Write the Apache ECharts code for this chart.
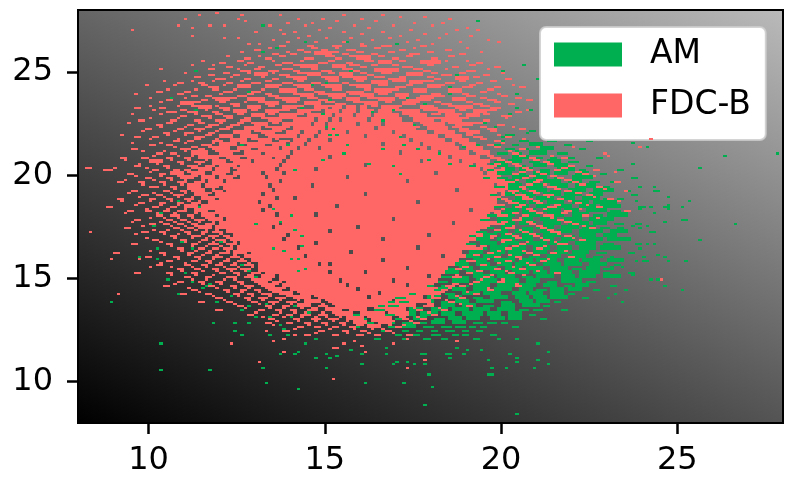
<!DOCTYPE html>
<html><head><meta charset="utf-8">
<style>html,body{margin:0;padding:0;background:#fff}#c{width:793px;height:490px}</style>
<script src="https://cdn.jsdelivr.net/npm/echarts@6/dist/echarts.min.js"></script>
</head><body><div id="c"></div>
<script>
const xTicks=[10,15,20,25];
const yTicks=[10,15,20,25];
// All values in tenths of an axis unit. Row = [y, from,to, from,to, ...]
const fdcbCore=[
[232,152,154,156,158,160,161],[230,150,153,155,158,160,163],[228,149,151,153,157,159,162,164,165],[226,148,150,152,153,155,161,163,166],[224,147,149,151,158,160,165,167,168],
[222,146,149,151,163,165,170],[220,144,147,149,155,157,168,170,172],[218,143,146,148,160,162,171,173,175],[216,141,144,146,150,152,173,175,178],[214,140,143,145,165,167,176,178,181],
[212,138,141,143,147,149,178,180,183],[210,137,139,141,170,172,181,183,186],[208,136,138,140,150,152,184,186,189],[206,135,137,139,176,178,187,189,192],[204,134,136,138,160,162,191,193,195],
[202,132,135,137,146,148,193,195,197],[200,133,137,139,180,182,194,196,198],[198,130,132,134,155,157,199],[196,131,136,138,172,174,200],[194,129,133,135,145,147,197,199,201],
[192,130,134,136,186,188,200],[190,128,131,133,160,162,198,200,201],[188,129,135,137,140,142,199],[186,127,130,132,175,177,198],[184,128,133,135,152,154,200],
[182,129,131,133,190,192,197],[180,130,135,137,146,148,196,198,199],[178,131,168,170,196],[176,132,136,138,185,187,198],[174,131,134,136,158,160,196],
[172,133,150,152,193],[170,132,138,140,178,180,195],[168,134,137,139,165,167,192],[166,135,146,148,190],[164,136,141,143,175,177,192],
[162,138,156,158,188],[160,137,143,145,182,184,190],[158,140,165,167,187],[156,141,147,149,150,152,186],[154,143,172,174,184],
[152,145,150,152,160,162,185],[150,146,178,180,182],[148,148,153,155,168,170,181],[146,150,155,157,172,174,180],[144,152,158,160,175],
[142,153,164,166,176],[140,156,161,163,172],[138,158,168,170,174],[136,161,170],[134,164,168],
[196,130,130],[194,128,128],[192,127,129],[190,126,127],[188,125,128],[186,124,126],[184,125,127],[182,126,128],[180,127,129],[178,127,130],[176,128,131],[174,129,130],[172,130,132],[170,130,131],[168,131,133],[166,132,134],[164,133,135],[162,134,137],[160,135,136],[158,136,139],[156,137,140],[154,139,142],[152,141,144],[150,143,145],[148,145,147],[146,147,149],[144,149,151],[142,151,152],[140,154,155],[138,157,157],[136,160,160]];
const amRows=[
[221,208,209,217,218],[219,201,203,212,213,220,221],[216,199,200,205,207,213,215,224,225],[214,198,199,203,204,208,211,218,219],[212,201,203,206,207,211,214,222,223],
[210,194,195,199,201,204,205,208,212,216,218],[208,197,199,203,207,210,211,214,215,219,220,227,228],[206,193,194,198,200,202,205,208,210,213,216,219,221],
[204,191,192,197,201,204,206,209,212,215,218,224,225],[202,196,198,200,203,205,208,211,213,216,220,222,223,233,234],[200,199,202,204,206,209,213,215,218,221,224,228,229],
[198,195,196,199,201,203,207,209,212,215,217,220,225,237,238],[196,201,204,207,210,212,216,219,222,225,227,231,232],[194,198,200,202,205,207,211,214,218,221,226,229,230],
[192,202,206,208,212,214,216,219,223,226,231,235,236,243,244],[190,197,198,201,204,206,209,212,216,218,222,225,228,237,238],[188,199,201,204,208,210,214,217,220,223,227,229,230,233,234],
[186,203,206,208,211,213,217,220,224,226,232],[184,198,200,203,207,210,213,215,219,222,226,228,233,239,240,246,247],[182,201,204,206,209,212,216,218,221,224,229,231,233],
[180,196,198,200,203,206,210,213,217,220,224,226,228,230,235],[178,194,196,199,202,205,208,211,215,218,222,225,231],[176,199,203,205,209,212,216,219,224,226,229,232,234,238,239],
[174,196,197,200,203,206,208,210,214,217,221,223,226,228,230,233,234],[172,193,195,198,201,204,208,211,214,216,219,222,228,231,235,242,243],
[170,191,192,195,198,200,203,206,210,212,216,218,220,222,226,229,232],[168,193,196,199,203,205,208,211,214,217,220,223,228,230,236],
[166,190,192,194,198,200,204,207,212,214,218,221,226,229,231,238,239],[164,194,195,197,201,203,206,209,213,216,219,222,226,228,233],
[162,191,194,197,200,202,206,209,212,215,218,220,224,227,229,236,237],[160,190,193,195,199,202,205,208,210,213,216,219,223,226,228,231,231],
[158,188,189,192,195,198,203,205,208,210,215,218,221,223,227,230,234,240,241],[156,187,190,193,196,199,202,204,209,212,216,218,222,225,229,232,233],
[154,185,186,188,191,194,198,201,205,207,211,214,218,220,222,224,227,229,231],[152,184,187,190,194,197,200,203,207,209,212,214,219,222,227,229,230,236,237],
[150,183,185,188,190,192,197,199,203,206,208,210,214,217,220,222,226,229,233],[148,182,184,186,190,193,198,200,204,207,210,213,215,217,222,224,226],
[146,179,180,183,185,188,190,192,196,199,203,205,209,212,215,218,219,221,224,231,232],[144,176,178,181,184,186,189,192,196,198,202,205,208,210,212,214,217,219,222,226,227],
[142,174,175,178,181,184,186,189,193,195,199,203,206,208,211,214,217,219,220],[140,170,172,174,176,179,182,185,188,192,194,197,201,204,207,209,212,214,218,223,224],
[138,168,169,171,173,176,180,183,185,187,190,193,197,200,202,205,208,210,213,215,216],[136,165,166,168,170,172,175,178,180,183,186,189,192,195,197,200,203,206,210,212,213],
[134,160,161,164,166,169,171,174,177,180,184,186,190,192,196,199,203,205,207,209,211,217,218],[132,158,159,163,164,167,169,172,175,177,181,183,186,189,194,196,199,202,205,208,209],
[130,160,161,165,167,170,172,175,178,181,183,185,188,190,193,197,200,202,205,211,212],[128,162,163,166,169,172,174,176,178,180,183,186,189,192,194,196,198,200,201],
[126,158,159,163,165,168,170,172,175,178,180,183,185,187,189,191,192,194,195,203,204],[124,166,168,172,173,176,177,180,181,184,186,189,190,193,194],
[122,170,171,175,176,180,182,186,187,189,190,197,198],[120,164,165,172,173,178,179,183,184,192,193]];
const amCells=[113,250,106,237,113,231,132,272,132,259,138,257,144,264,136,261,128,240,108,216,121,214,126,214,134,210,134,227,134,219,141,202,143,232,143,224,139,214,135,229,139,225,116,209,110,202,106,200,
193,274,156,264,170,263,206,253,200,250,187,248,202,246,210,246,190,246,185,242,191,242,182,242,176,244,172,242,163,239,154,243,150,244,146,243,157,250,161,252,171,239,173,237,151,236,185,239,189,236,204,239,208,236,204,232,208,231,202,229,194,231,188,232,178,234,169,231,148,231,149,229,163,230,175,224,166,226,179,226,190,224,195,225,198,223,200,218,207,220,204,211,156,214,155,210,149,207,162,205,169,204,171,200,179,207,176,212,172,214,166,212,171,218,185,205,189,213,193,214,182,210,152,222,151,219,153,219,150,223,143,224,
103,181,97,160,102,159,89,138,101,175,108,187,107,181,106,188,110,191,114,184,114,177,120,181,121,177,120,167,124,172,117,162,112,164,109,167,102,164,110,152,115,145,117,147,112,148,105,149,108,142,123,154,126,156,128,153,132,155,130,164,132,164,135,164,135,183,140,180,130,176,126,181,137,177,141,173,143,170,143,165,138,163,140,159,142,159,144,154,142,153,137,151,133,146,130,150,127,146,116,146,119,138,123,141,126,134,128,136,130,131,133,137,135,143,141,136,142,136,140,131,145,141,145,133,137,140,134,131,124,124,126,122,134,122,139,122,118,128,124,128,128,128,138,125,137,127,
237,215,241,213,237,205,239,194,243,194,247,189,238,187,247,185,242,184,253,187,247,183,251,184,239,183,246,177,251,178,252,178,237,175,241,175,239,174,243,181,235,173,233,173,241,166,243,166,239,164,244,161,246,160,240,160,238,158,247,158,252,158,237,151,234,155,231,155,242,149,246,146,244,149,251,144,235,144,230,140,232,142,234,138,227,144,263,209,278,210,256,203,266,176,256,168,
132,106,133,99,142,96,142,114,141,113,137,113,144,118,147,111,147,120,150,113,150,106,151,111,153,112,157,115,160,113,160,108,161,99,167,113,167,116,169,108,170,109,173,109,172,99,175,108,177,113,178,113,178,108,179,103,180,97,178,88,184,113,185,111,185,113,189,113,190,115,196,110,196,103,197,106,197,103,201,106,202,113,204,111,204,109,204,84,209,106,210,110,210,118,213,114,213,108,204,120,199,120,194,115,187,116,
103,118,117,105,123,118,103,105];
const fdcbRows=[
[262,137,138,145,146,152,154,160,161,166,168,177,178],[260,130,131,142,143,149,150,156,158,171,172,184,185],[258,135,136,140,141,147,151,155,156,163,164,174,176,188,189],
[256,127,128,133,134,144,146,153,154,159,162,169,170,180,181],[254,120,121,128,129,138,140,148,150,156,157,165,168,177,182,193,194],[252,122,123,131,132,143,147,152,155,160,161,172,174,186,187,198,199],
[250,126,128,134,136,141,142,149,151,158,159,164,170,178,179,190,192],[248,117,118,124,125,130,133,137,139,145,148,154,157,162,163,173,177,183,185,195,196],
[246,119,121,127,128,135,136,141,144,150,153,158,161,168,170,181,182,187,190,201,202],[244,108,109,114,115,122,123,129,131,138,140,146,148,155,156,163,167,174,177,184,186,193,194],
[242,117,119,125,128,133,136,142,145,150,154,159,162,170,172,179,182,189,191,198,199,205,206],[240,102,103,110,111,121,123,129,131,137,141,147,149,156,158,164,168,175,178,185,188,194,195],
[238,112,113,116,117,125,127,134,136,143,146,151,155,160,163,170,173,181,183,190,192,200,201],[236,105,106,115,116,119,122,128,132,138,142,148,150,156,159,165,169,176,179,186,189,196,198,207,208],
[234,109,112,123,125,133,136,144,148,153,155,161,164,172,175,183,185,192,194,202,203],[232,96,97,103,104,114,117,120,122,128,131,138,141,147,150,166,170,177,180,187,191,197,199],
[230,105,107,111,113,118,119,124,127,133,136,142,145,165,168,172,176,182,186,192,195,204,205],[228,109,110,115,117,121,123,129,132,137,141,145,148,166,170,174,178,184,187,190,193,200,202],
[226,97,98,106,107,113,114,119,121,126,128,134,137,141,146,167,171,175,180,183,188,195,196],[224,102,103,111,112,117,119,123,125,130,133,138,145,169,174,178,183,187,191,199,200],
[222,99,100,108,109,113,115,120,122,127,131,135,138,141,145,171,175,179,184,188,190,196,198,205,206],[220,104,105,110,112,117,118,124,128,132,135,139,142,173,178,181,186,190,193],
[218,96,97,101,102,113,115,120,123,126,130,134,141,176,181,184,188,192,194,201,202],[216,107,108,111,112,118,120,123,127,131,134,137,139,179,183,186,190,198,199],
[214,100,101,105,106,115,117,120,124,128,132,135,138,182,186,189,192,196,197],[212,95,96,109,111,114,115,118,122,125,128,131,136,184,187,190,194,205,206],
[210,102,103,106,107,112,116,120,123,127,131,133,136,187,190,193,196,203,204],[208,92,93,98,99,105,106,110,111,114,119,122,125,128,134,190,193,197,199,208,209,217,218],
[206,100,103,108,109,113,115,118,121,124,128,130,134,193,196,201,202,212,213],[204,96,97,104,105,111,113,116,118,120,124,126,133,196,198,204,205,219,220],
[202,87,89,101,102,107,108,110,111,114,117,119,122,125,132,198,200,207,208,215,216,226,227],[200,94,95,103,104,106,109,112,115,118,121,124,131,203,204,211,212,223,224],
[198,99,100,105,106,109,112,115,118,120,123,126,129,206,207,216,217],[196,91,92,97,98,103,104,108,110,113,115,117,120,122,129,201,203,209,210,220,221,232,233],
[194,100,102,106,107,111,114,116,119,121,127,205,206,213,215,227,228],[192,95,96,104,105,109,110,112,115,118,120,122,126,202,204,208,209,218,219],
[190,98,99,102,103,107,109,113,116,119,125,204,206,212,214,224,225],[188,91,92,100,101,105,106,110,112,115,118,120,124,200,201,206,208,216,217,230,231],
[186,97,98,103,104,108,109,112,114,117,123,202,204,210,211,221,222],[184,88,89,101,102,106,107,110,113,115,124,204,205,213,215,227,228],
[182,94,95,99,100,104,105,108,110,113,116,119,125,198,199,208,209,218,219,235,236],[180,102,103,106,108,111,112,115,118,120,126,200,201,206,207,212,214,223,224],
[178,96,97,105,106,109,110,113,115,117,120,122,126,203,205,216,217],[176,100,101,104,105,108,109,112,113,116,118,120,127,199,200,208,209,220,221],
[174,93,94,107,108,111,112,114,117,119,128,201,203,211,212,225,226],[172,98,99,103,104,110,111,115,116,118,120,122,129,206,207,214,216],
[170,106,107,112,114,117,119,121,122,124,129,197,198,203,204,209,210,218,219],[168,101,102,109,110,115,116,119,121,123,130,200,202,212,213,222,223],
[166,95,96,105,106,112,113,117,119,122,124,126,131,205,206,216,218],[164,108,109,114,115,118,119,121,123,125,132,193,194,201,202,210,211],
[162,90,91,103,104,111,112,116,117,120,122,124,127,129,133,196,197,207,208,214,215],[160,99,100,107,108,113,114,118,120,123,125,127,134,198,199,204,205,219,220],
[158,105,106,112,113,116,117,121,122,125,127,129,135,190,192,201,202,211,212],[156,102,103,110,111,115,116,119,120,123,124,127,129,131,136,194,195,208,209],
[154,108,109,113,114,118,119,122,124,126,128,131,138,187,188,198,199,205,206],[152,96,97,105,106,112,113,120,121,124,125,129,131,133,140,190,191,202,203,215,216],
[150,110,111,116,117,122,124,127,129,132,135,137,142,186,188,195,196],[148,108,109,114,115,119,120,125,126,130,133,135,137,139,144,192,193,199,200],
[146,104,105,117,118,123,124,127,129,132,135,138,146,184,186,188,189,204,205],[144,112,113,121,122,126,127,130,131,134,137,140,148,176,180,183,184,196,197],
[142,109,110,116,117,124,125,128,129,132,134,137,140,143,150,177,182,192,193],[140,119,120,127,128,131,133,136,138,141,145,148,153,173,177,180,182,188,189],
[138,114,115,122,123,129,130,134,136,139,141,144,148,151,156,175,179,185,186],[136,125,126,133,134,138,139,142,145,148,150,153,159,171,175,178,180,190,191],
[134,119,120,131,132,136,137,140,141,145,147,150,154,157,161,169,172,176,177,183,184],[132,128,129,135,136,139,140,143,145,148,150,153,157,160,166,170,173,180,181],
[130,134,135,141,142,146,148,151,153,156,160,163,168,172,173,177,178],[128,133,134,139,140,144,145,149,150,154,155,158,161,165,168,175,176],
[126,142,143,147,148,152,153,157,158,162,165,170,171],[124,138,139,148,149,155,156,160,161,167,168],[122,144,145,152,153,159,160,164,165,173,174]];
const fdcbOdd=[
[261,134,134,146,147,153,153,164,165,175,175,190,190],[259,126,126,139,139,144,145,152,153,159,160,168,169,179,180,194,194],[257,122,122,131,131,137,138,150,152,157,158,165,166,173,174,185,186],
[255,115,115,125,126,135,135,143,143,151,152,161,163,171,172,184,184,190,190],[253,112,112,118,118,127,127,136,137,141,142,157,159,163,164,169,170,179,180,191,192],
[251,103,103,117,118,125,125,130,131,138,140,146,147,155,157,167,168,175,177,184,184,196,196],[249,110,110,121,122,128,128,135,135,142,144,151,152,160,161,166,168,180,181,188,189,200,200],
[247,113,114,123,123,132,132,139,140,149,149,155,157,164,166,171,172,179,180,192,193],[245,104,104,112,112,118,118,126,126,133,134,142,143,151,153,159,160,169,172,178,180,188,189,197,198],
[243,99,99,107,107,115,116,121,121,127,128,135,137,141,141,149,150,157,158,165,167,173,174,181,183,191,192,203,203],[241,105,105,113,113,118,119,124,124,132,132,139,140,144,146,152,154,161,162,168,170,176,178,186,187,196,197],
[239,96,96,108,109,120,120,128,129,133,134,141,142,148,150,157,160,165,167,172,173,180,182,189,190,199,199],[237,100,100,110,110,118,118,123,124,130,130,136,137,145,147,152,154,162,164,171,172,177,180,187,188,194,195,204,205],
[235,103,103,113,114,120,121,127,127,131,133,139,141,146,147,150,152,158,160,167,168,173,176,181,182,190,191,198,199],[233,100,100,108,108,112,113,119,119,124,125,134,135,141,143,149,151,163,164,169,171,178,180,185,187,194,196],
[231,101,101,109,110,116,116,121,122,129,130,137,139,146,148,166,167,170,172,178,181,188,189,196,198,207,207],[229,95,95,103,103,113,113,119,120,125,126,134,135,142,143,147,148,168,169,172,174,180,182,186,188,195,196],
[227,100,100,108,108,117,117,122,123,127,128,132,133,138,140,144,146,170,171,175,177,181,183,189,190,201,201],[225,94,94,105,106,114,115,120,120,125,126,129,129,135,136,142,143,172,173,177,179,185,186,192,194],
[223,103,103,110,110,116,117,122,123,128,129,133,134,137,139,174,176,180,182,186,188,194,195,203,203],[221,98,98,107,107,114,114,119,119,125,125,130,131,136,137,176,177,182,183,188,189,197,198],
[219,92,92,105,105,110,110,116,117,122,123,128,129,133,134,138,139,178,180,185,186,190,191,199,199],[217,100,100,108,108,113,114,119,119,124,125,129,130,136,136,181,182,187,189,194,195,206,206],
[215,95,95,103,103,110,110,118,118,122,122,126,127,133,134,137,138,184,185,188,190,200,200],[213,107,107,112,113,117,117,121,122,126,126,129,130,133,134,186,187,191,192,198,199,210,210],
[211,98,98,104,104,110,110,115,116,119,119,124,125,128,129,132,133,188,189,192,193,202,202],[209,101,101,108,108,112,112,117,117,120,121,126,127,131,131,135,135,191,192,196,197,205,206,214,214],
[207,93,93,106,106,111,111,116,116,119,120,123,123,127,128,132,132,194,195,199,200,209,210],[205,97,97,102,102,109,109,114,114,118,119,122,122,125,126,129,129,198,199,203,204,213,214],
[203,90,90,99,99,105,105,112,113,116,116,119,120,124,124,127,127,130,130,200,200,206,207,217,218],[201,100,100,107,107,111,111,115,115,118,118,122,122,126,126,128,129,205,206,210,210,221,222],
[199,96,96,103,103,108,108,113,113,117,118,120,121,124,124,127,127,208,209,214,215,226,226],[197,93,93,101,101,106,106,110,110,115,115,119,119,122,123,125,125,128,128,204,204,210,211,218,219],
[195,98,98,104,104,109,109,112,112,117,118,120,120,124,125,207,208,212,212,222,223],[193,107,107,111,111,114,114,118,118,121,121,125,125,200,201,206,206,215,216,229,229],
[191,94,94,101,101,106,106,110,110,113,113,117,117,120,120,123,123,127,127,203,203,209,210,221,222],[189,97,97,104,104,108,108,112,112,116,116,119,119,122,122,126,126,206,207,213,213,226,226],
[187,92,92,100,100,106,106,111,111,114,114,118,118,121,121,125,125,201,202,209,210,219,219],[185,96,96,103,103,108,108,112,112,116,116,119,119,122,122,125,126,205,206,215,216,224,224],
[183,99,99,105,105,110,110,114,114,117,118,121,121,123,123,127,127,200,200,207,208,212,212,222,222],[181,93,93,102,102,107,107,113,113,116,116,119,119,123,123,126,126,129,129,203,204,210,211,217,218],
[179,100,100,104,104,108,108,112,112,116,116,119,119,122,122,124,125,128,128,205,205,214,214,227,227],[177,95,95,103,103,107,107,111,111,114,114,118,118,121,121,125,125,200,201,207,208,218,219],
[175,98,98,106,106,110,110,113,113,117,117,120,120,123,123,127,127,203,203,210,211,223,223],[173,101,101,105,105,109,109,113,113,116,116,119,119,122,122,125,125,129,129,198,199,205,205,213,214],
[171,96,96,104,104,108,108,111,111,115,115,120,120,124,124,127,127,201,202,208,209,216,216],[169,99,99,107,107,112,112,116,116,118,118,122,122,125,125,129,129,197,197,204,205,211,211,220,220],
[167,103,103,110,110,114,114,118,118,121,121,124,124,128,128,131,131,200,200,207,207,215,215],[165,106,106,112,112,116,116,120,120,123,123,127,127,130,130,194,195,203,204,212,212],
[163,100,100,109,109,113,113,117,117,122,122,125,125,128,128,131,132,199,199,206,206,218,218],[161,104,104,111,111,115,115,119,119,124,124,127,127,130,130,133,133,192,193,202,202,209,210],
[159,97,97,108,108,114,114,118,118,122,122,126,126,129,129,132,132,135,135,196,196,205,205,213,213],[157,103,103,110,110,117,117,120,120,124,124,128,128,132,132,136,136,199,199,207,207],
[155,100,100,106,106,112,112,116,116,121,121,125,125,129,129,133,133,137,137,189,190,203,203],[153,109,109,115,115,119,119,123,123,127,127,131,132,135,136,139,139,193,194,201,201,210,210],
[151,106,106,113,113,118,118,125,125,128,129,133,134,138,138,141,141,187,187,197,197,206,206],[149,112,112,116,116,121,121,124,124,129,130,134,134,137,138,142,142,145,145,194,194,200,200],
[147,107,107,115,115,120,120,126,126,131,131,135,136,139,140,143,143,146,147,186,187,191,191,204,204],[145,111,111,119,119,124,124,128,128,133,133,137,138,141,141,144,145,148,148,180,181,185,185,196,196],
[143,114,114,122,122,126,126,131,131,135,136,139,139,142,143,146,146,149,150,178,178,182,183,190,190],[141,118,118,125,125,129,129,134,134,139,140,143,143,147,147,151,151,175,176,180,180,187,187],
[139,121,121,128,128,132,132,137,137,142,142,146,147,150,151,154,154,172,173,177,178,184,184],[137,124,124,131,131,135,135,140,140,144,145,149,149,152,153,156,156,158,158,174,175,179,180,188,188],
[135,127,127,134,134,138,138,143,143,146,147,151,152,155,156,159,159,170,171,175,175,182,182],[133,130,130,137,137,141,141,144,144,149,149,152,153,156,157,160,161,165,165,168,169,173,173,179,179],
[131,132,132,138,138,143,143,147,147,150,150,154,154,158,158,162,163,167,167,171,172,176,176],[129,136,136,142,142,147,147,152,152,156,156,160,160,163,164,168,169,174,174],
[127,135,135,145,145,150,150,155,155,159,160,164,164,168,168,172,172],[125,141,141,151,151,158,158,163,163,166,166],[123,147,147,156,156,162,162,169,169]];
const fdcbCells=[119,278,114,277,126,277,137,277,155,277,166,277,171,276,178,276,110,275,125,275,142,275,149,275,160,275,185,275,127,274,153,274,164,274,139,273,146,273,175,273,183,273,108,272,117,272,121,272,134,272,144,272,158,272,169,272,180,272,112,271,151,271,162,271,190,271,95,270,137,270,148,270,174,270,187,270,193,270,130,269,141,269,155,269,166,269,138,268,160,268,178,268,184,268,112,267,145,267,171,267,191,267,121,266,125,266,142,266,150,266,157,266,168,266,182,266,135,265,163,265,176,265,196,265,139,264,147,264,155,264,173,264,188,264,199,264,128,263,131,263,160,263,180,263,
82,203,83,203,83,172,89,159,91,142,123,118,131,109,138,114,133,124,135,119,138,120,141,122,152,101,152,116,153,116,155,118,158,119,160,117,161,114,173,106,178,110,187,119,169,118,173,120,
229,210,242,217,239,213,245,149,235,192,233,187,232,201,220,213,230,209];

const amData=[], coreData=[], fdcbData=[];
function addRuns(rows,out,fixedTall){
  rows.forEach(r=>{
    for(let i=1;i+1<r.length;i+=2){
      const a=r[i],b=r[i+1],h=(fixedTall||b-a>=3)?2:1;
      out.push([a/10,r[0]/10,(b+1)/10,(r[0]+h)/10]);
    }
  });
}
function addCells(flat,out){
  for(let i=0;i<flat.length;i+=2) out.push([flat[i]/10,flat[i+1]/10,(flat[i]+1)/10,(flat[i+1]+1)/10]);
}
addRuns(fdcbCore,coreData,true);
addRuns(amRows,amData,false); addCells(amCells,amData);
addRuns(fdcbRows,fdcbData,false); addRuns(fdcbOdd,fdcbData,false); addCells(fdcbCells,fdcbData);

function cell(params,api){
  const p=api.coord([api.value(0),api.value(1)]);
  const q=api.coord([api.value(2),api.value(3)]);
  const x0=Math.round(p[0]),x1=Math.round(q[0]),y0=Math.round(q[1]),y1=Math.round(p[1]);
  return {type:'rect',shape:{x:x0,y:y0,width:x1-x0,height:y1-y0},style:{fill:api.visual('color')},silent:true};
}
const GREEN='#00b050', PINK='#ff6666';
function series(name,data,color,z){
  return {type:'custom',name,data,renderItem:cell,clip:true,z,progressive:0,animation:false,
    itemStyle:{color},encode:{x:[0,2],y:[1,3]}};
}
const font='"DejaVu Sans"';
const chart=echarts.init(document.getElementById('c'),null,{renderer:'canvas'});
const axisCommon=(ticks,margin)=>({type:'value',min:8,max:28,
  axisLine:{show:true,onZero:false,lineStyle:{color:'#000',width:2}},
  axisTick:{show:true,length:11,lineStyle:{color:'#000',width:2.5},customValues:ticks},
  axisLabel:{show:true,color:'#000',fontFamily:font,fontSize:32,margin,customValues:ticks,formatter:v=>String(v)},
  splitLine:{show:false}});
chart.setOption({
  animation:false,
  backgroundColor:'#fff',
  grid:{show:true,left:78,right:10,top:10,bottom:67,borderColor:'#000',borderWidth:2,
    backgroundColor:new echarts.graphic.LinearGradient(78,423,374,-189,[{offset:0,color:'#000'},{offset:1,color:'rgb(186,186,186)'}],true)},
  xAxis:axisCommon(xTicks,22),
  yAxis:axisCommon(yTicks,25),
  legend:{show:true,orient:'vertical',left:540,top:27,padding:[11,15,18,14],itemWidth:68,itemHeight:24,itemGap:18,
    icon:'rect',align:'left',selectedMode:false,data:['AM','FDC-B'],
    backgroundColor:'#fff',borderColor:'rgba(204,204,204,0.85)',borderWidth:2,borderRadius:6,
    textStyle:{fontFamily:font,fontSize:33,color:'#000',padding:[0,0,0,23],lineHeight:33}},
  series:[series('FDC-B',coreData,PINK,2),series('AM',amData,GREEN,3),series('FDC-B',fdcbData,PINK,4)]
});
</script></body></html>
